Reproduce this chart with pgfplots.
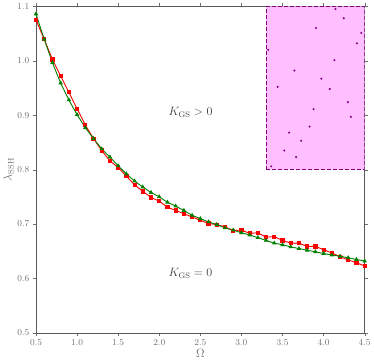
\documentclass[border=0pt]{standalone}
\usepackage{pgfplots}
\pgfplotsset{compat=1.18}
\definecolor{pinkfill}{RGB}{255,190,255}
\definecolor{purpdot}{RGB}{128,0,128}
\definecolor{mygreen}{RGB}{0,128,0}
\definecolor{tickgray}{RGB}{110,110,110}
\begin{document}
\begin{tikzpicture}
	\begin{axis}[
			width=326pt,
			height=324pt,
			scale only axis,
			xmin=0.5, xmax=4.5,
			ymin=0.5, ymax=1.1,
			xtick={0.5,1.0,1.5,2.0,2.5,3.0,3.5,4.0,4.5},
			ytick={0.5,0.6,0.7,0.8,0.9,1.0,1.1},
			xticklabel style={/pgf/number format/fixed,/pgf/number format/fixed zerofill,/pgf/number format/precision=1},
			yticklabel style={/pgf/number format/fixed,/pgf/number format/fixed zerofill,/pgf/number format/precision=1},
			tick align=outside,
			major tick length=3pt,
			tick style={tickgray},
			ticklabel style={font=\small, text=tickgray},
			axis line style={black!65},
			xlabel={$\Omega$},
			ylabel={$\lambda_{\mathrm{SSH}}$},
			label style={text=tickgray, font=\large},
			xlabel style={yshift=3pt},
			ylabel style={yshift=-3pt},
		]

		\addplot[fill=pinkfill, draw=purpdot, dash pattern=on 4pt off 2pt, thick] coordinates {
				(3.3,0.8) (4.5,0.8) (4.5,1.1) (3.3,1.1) (3.3,0.8)
			};

		\addplot[only marks, mark=*, mark size=0.8pt, color=purpdot] coordinates {
				(4.144,1.095) (4.246,1.078) (3.907,1.060) (4.459,1.051) (4.406,1.032)
				(3.326,1.020) (4.132,1.001) (3.645,0.982) (3.972,0.967) (3.441,0.952)
				(4.075,0.948) (4.296,0.924) (3.878,0.911) (4.332,0.897) (3.829,0.879)
				(3.580,0.868) (3.727,0.853) (3.522,0.835) (3.666,0.823) (3.363,0.806)
			};

		\addplot[color=red, mark=square*, mark size=1.6pt, line width=0.9pt] coordinates {
				(0.5,1.075) (0.6,1.0395) (0.7,1.0025) (0.8,0.972) (0.9,0.942)
				(1.0,0.912) (1.1,0.882) (1.2,0.857) (1.3,0.835) (1.4,0.816)
				(1.5,0.804) (1.6,0.788) (1.7,0.772) (1.8,0.760) (1.9,0.749)
				(2.0,0.742) (2.1,0.731) (2.2,0.725) (2.3,0.719) (2.4,0.713)
				(2.5,0.707) (2.6,0.701) (2.7,0.699) (2.8,0.695) (2.9,0.688)
				(3.0,0.689) (3.1,0.683) (3.2,0.684) (3.3,0.676) (3.4,0.677)
				(3.5,0.670) (3.6,0.665) (3.7,0.665) (3.8,0.659) (3.9,0.659)
				(4.0,0.653) (4.1,0.647) (4.2,0.640) (4.3,0.634) (4.4,0.629)
				(4.5,0.623)
			};

		\addplot[color=mygreen, mark=triangle*, mark size=1.7pt, line width=0.9pt] coordinates {
				(0.5,1.0858) (0.6,1.0395) (0.7,0.9964) (0.8,0.959) (0.9,0.928)
				(1.0,0.901) (1.1,0.877) (1.2,0.857) (1.3,0.838) (1.4,0.823)
				(1.5,0.807) (1.6,0.792) (1.7,0.779) (1.8,0.768) (1.9,0.758)
				(2.0,0.750) (2.1,0.740) (2.2,0.733) (2.3,0.725) (2.4,0.716)
				(2.5,0.710) (2.6,0.704) (2.7,0.699) (2.8,0.693) (2.9,0.689)
				(3.0,0.684) (3.1,0.680) (3.2,0.675) (3.3,0.670) (3.4,0.665)
				(3.5,0.662) (3.6,0.658) (3.7,0.655) (3.8,0.652) (3.9,0.649)
				(4.0,0.646) (4.1,0.643) (4.2,0.641) (4.3,0.638) (4.4,0.635)
				(4.5,0.632)
			};

		\node[text=black!75, font=\large] at (axis cs:2.38,0.905) {$K_{\mathrm{GS}} > 0$};
		\node[text=black!75, font=\large] at (axis cs:2.38,0.609) {$K_{\mathrm{GS}} = 0$};

	\end{axis}
\end{tikzpicture}
\end{document}
